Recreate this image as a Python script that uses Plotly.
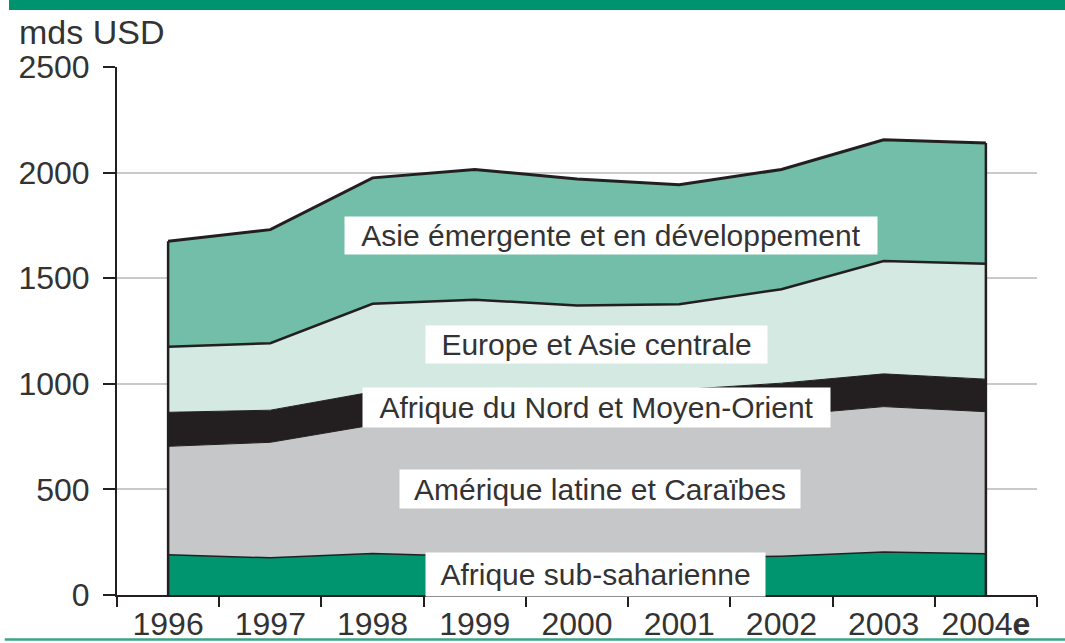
import plotly.graph_objects as go

years = ["1996", "1997", "1998", "1999", "2000", "2001", "2002", "2003", "2004"]
year_labels = ["1996", "1997", "1998", "1999", "2000", "2001", "2002", "2003", "2004<b>e</b>"]

# values in billions USD (mds USD)
afrique_sub = [191, 176, 196, 182, 172, 172, 184, 204, 195]
amerique_latine = [513, 547, 609, 630, 638, 643, 666, 688, 673]
afrique_nord_mo = [161, 152, 157, 158, 158, 157, 153, 155, 154]
europe_asie_c = [310, 317, 417, 428, 403, 405, 445, 534, 546]
asie_emergente = [500, 538, 596, 617, 599, 565, 567, 574, 572]

y_ticks = [0, 500, 1000, 1500, 2000, 2500]

series = [
    ("Afrique sub-saharienne", afrique_sub, "#00956E", "#231F20", 1.5),
    ("Amérique latine et Caraïbes", amerique_latine, "#C6C7C9", "#231F20", 1),
    ("Afrique du Nord et Moyen-Orient", afrique_nord_mo, "#231F20", "#231F20", 1),
    ("Europe et Asie centrale", europe_asie_c, "#D4E9E2", "#231F20", 2.5),
    ("Asie émergente et en développement", asie_emergente, "#72BEA8", "#231F20", 3),
]

totals = [sum(v) for v in zip(afrique_sub, amerique_latine, afrique_nord_mo, europe_asie_c, asie_emergente)]

FONT = "Liberation Sans, Arial, sans-serif"
TXT = "#333333"

fig = go.Figure()
for name, vals, fill, lc, lw in series:
    fig.add_trace(go.Scatter(
        x=years, y=vals, name=name, stackgroup="one", mode="lines",
        line=dict(color=lc, width=lw), fillcolor=fill, showlegend=False,
        hoverinfo="x+y+name",
    ))

# vertical outline edges at first and last year
for i in (0, len(years) - 1):
    fig.add_trace(go.Scatter(
        x=[years[i], years[i]], y=[0, totals[i]], mode="lines",
        line=dict(color="#231F20", width=2.5), showlegend=False, hoverinfo="skip",
    ))

# labels (box position, size)
labels = [
    ("Asie émergente et en développement", 0.537, 1703, 532, 37),
    ("Europe et Asie centrale", 0.521, 1185, 341, 37),
    ("Afrique du Nord et Moyen-Orient", 0.521, 889, 467, 39),
    ("Amérique latine et Caraïbes", 0.525, 504, 400, 38),
    ("Afrique sub-saharienne", 0.520, 97, 339, 43),
]
for text, xp, yv, w, h in labels:
    fig.add_annotation(
        x=xp, xref="paper", y=yv, yref="y", text=text, showarrow=False,
        font=dict(family=FONT, size=30, color=TXT), bgcolor="white",
        width=w, height=h, borderpad=0, xanchor="center", yanchor="middle",
    )

fig.add_annotation(
    x=-0.1087, xref="paper", y=1.067, yref="paper", text="mds USD", showarrow=False,
    font=dict(family=FONT, size=34, color=TXT), xanchor="left", yanchor="middle",
)

# top green band and bottom rule
fig.add_shape(type="rect", xref="paper", yref="paper", x0=-0.1174, x1=1.04,
              y0=1.1078, y1=1.13, fillcolor="#00936F", line=dict(width=0), layer="above")
fig.add_shape(type="line", xref="paper", yref="paper", x0=-0.122, x1=1.04,
              y0=-0.0842, y1=-0.0842, line=dict(color="#3AA58A", width=2.5))

fig.update_layout(
    width=1065, height=643,
    margin=dict(l=117, r=28, t=67, b=47.5),
    paper_bgcolor="white", plot_bgcolor="white",
    font=dict(family=FONT, size=32, color=TXT),
    xaxis=dict(
        type="category", range=[-0.5, 8.5], tickvals=years, ticktext=year_labels,
        tickson="boundaries", ticks="outside", ticklen=10, tickwidth=2, tickcolor="#231F20",
        showline=True, linecolor="#231F20", linewidth=2, showgrid=False,
        tickfont=dict(family=FONT, size=32, color=TXT), fixedrange=True,
        automargin=False,
    ),
    yaxis=dict(
        range=[0, 2500], tickvals=y_ticks, ticks="outside", ticklen=12, tickwidth=2,
        tickcolor="#231F20", showline=True, linecolor="#231F20", linewidth=2,
        showgrid=True, gridcolor="#C9C9C9", gridwidth=2, zeroline=False,
        tickfont=dict(family=FONT, size=32, color=TXT), ticklabelstandoff=7,
        fixedrange=True, automargin=False,
    ),
)

# remove the default 8px page margin so the figure sits at the window's top-left corner
fig.write_html("out.html", post_script="document.body.style.margin='0';",
               config={"displayModeBar": False})
